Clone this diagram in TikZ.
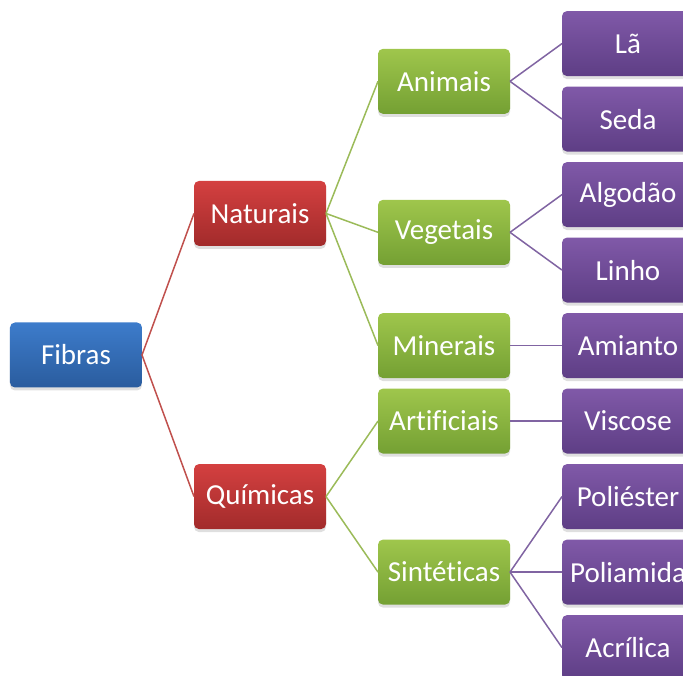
\documentclass[tikz,border=0pt]{standalone}
\usepackage{fontspec}
\setmainfont[Ligatures=NoCommon]{Carlito}
\usepackage{tikz-qtree}
\usetikzlibrary{shadows}

\definecolor{rootTop}{HTML}{3D7CCB}
\definecolor{rootBot}{HTML}{2A5C9E}
\definecolor{catTop}{HTML}{D44040}
\definecolor{catBot}{HTML}{A22B2B}
\definecolor{subTop}{HTML}{9FC64C}
\definecolor{subBot}{HTML}{74A033}
\definecolor{leafTop}{HTML}{8059A8}
\definecolor{leafBot}{HTML}{5E3E85}
\definecolor{catLine}{HTML}{C0504D}
\definecolor{subLine}{HTML}{9BBB59}
\definecolor{leafLine}{HTML}{8064A2}

\tikzset{
  rootbox/.style={top color=rootTop,bottom color=rootBot},
  catbox/.style={top color=catTop,bottom color=catBot},
  subbox/.style={top color=subTop,bottom color=subBot},
  leafbox/.style={top color=leafTop,bottom color=leafBot},
  catedge/.style={draw=catLine},
  subedge/.style={draw=subLine},
  leafedge/.style={draw=leafLine},
}

\begin{document}
\begin{tikzpicture}[x=1pt,y=1pt,
   every tree node/.style={rounded corners=5pt,minimum width=132pt,
     minimum height=65pt,outer sep=0pt,text=white,
     font=\fontsize{29}{33}\selectfont,
     drop shadow={shadow xshift=0pt,shadow yshift=-3pt,opacity=.25}},
   grow'=right,level distance=184pt,sibling distance=10.5pt,
   edge from parent/.style={draw,line width=1.5pt},
   edge from parent path={(\tikzparentnode.east) -- (\tikzchildnode.west)}]
\useasboundingbox (-76,355) rectangle (607,-321);

\Tree [.\node[rootbox] (fibras) {Fibras};
      \edge[catedge];
    [.\node[catbox] (naturais) {Naturais};
        \edge[subedge];
      [.\node[subbox] (animais) {Animais};
          \edge[leafedge]; \node[leafbox] (la) {Lã};
          \edge[leafedge]; \node[leafbox] (seda) {Seda};
      ]
        \edge[subedge];
      [.\node[subbox] (vegetais) {Vegetais};
          \edge[leafedge]; \node[leafbox] (algodao) {Algodão};
          \edge[leafedge]; \node[leafbox] (linho) {Linho};
      ]
        \edge[subedge];
      [.\node[subbox] (minerais) {Minerais};
          \edge[leafedge]; \node[leafbox] (amianto) {Amianto};
      ]
    ]
      \edge[catedge];
    [.\node[catbox] (quimicas) {Químicas};
        \edge[subedge];
      [.\node[subbox] (artificiais) {Artificiais};
          \edge[leafedge]; \node[leafbox] (viscose) {Viscose};
      ]
        \edge[subedge];
      [.\node[subbox] (sinteticas) {Sintéticas};
          \edge[leafedge]; \node[leafbox] (poliester) {Poliéster};
          \edge[leafedge]; \node[leafbox] (poliamida) {Poliamida};
          \edge[leafedge]; \node[leafbox] (acrilica) {Acrílica};
      ]
    ]
]

\end{tikzpicture}
\end{document}
